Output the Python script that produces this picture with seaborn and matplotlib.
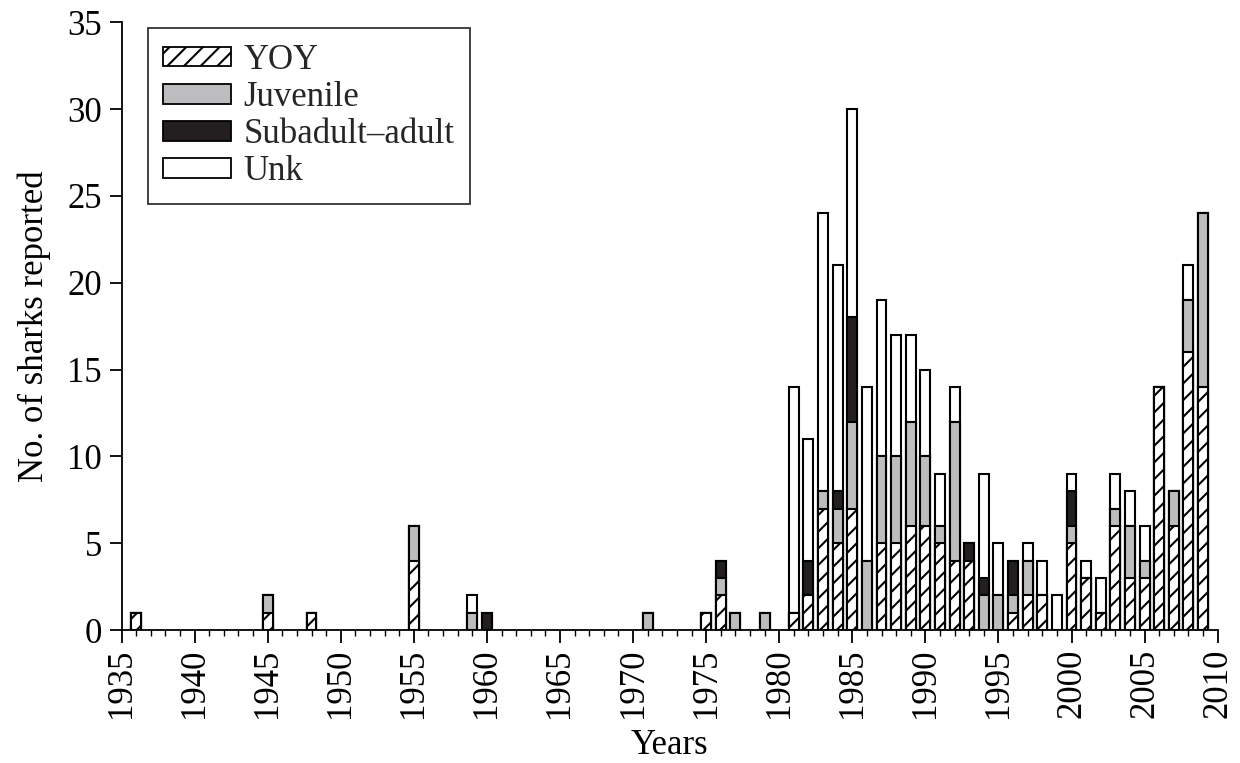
import numpy as np
import pandas as pd
import matplotlib
matplotlib.use("Agg")
import matplotlib.pyplot as plt
from matplotlib.patches import Patch
from matplotlib.ticker import MultipleLocator
import seaborn as sns

years    = [1936, 1945, 1948, 1955, 1959, 1960, 1971, 1975, 1976, 1977, 1979,
            1981, 1982, 1983, 1984, 1985, 1986, 1987, 1988, 1989, 1990,
            1991, 1992, 1993, 1994, 1995, 1996, 1997, 1998, 1999, 2000,
            2001, 2002, 2003, 2004, 2005, 2006, 2007, 2008, 2009]
yoy      = [1, 1, 1, 4, 0, 0, 0, 1, 2, 0, 0,
            1, 2, 7, 5, 7, 0, 5, 5, 6, 6,
            5, 4, 4, 0, 0, 1, 2, 2, 0, 5,
            3, 1, 6, 3, 3, 14, 6, 16, 14]
juvenile = [0, 1, 0, 2, 1, 0, 1, 0, 1, 1, 1,
            0, 0, 1, 2, 5, 4, 5, 5, 6, 4,
            1, 8, 0, 2, 2, 1, 2, 0, 0, 1,
            0, 0, 1, 3, 1, 0, 2, 3, 10]
subadult = [0, 0, 0, 0, 0, 1, 0, 0, 1, 0, 0,
            0, 2, 0, 1, 6, 0, 0, 0, 0, 0,
            0, 0, 1, 1, 0, 2, 0, 0, 0, 2,
            0, 0, 0, 0, 0, 0, 0, 0, 0]
unk      = [0, 0, 0, 0, 1, 0, 0, 0, 0, 0, 0,
            13, 7, 16, 13, 12, 10, 9, 7, 5, 5,
            3, 2, 0, 6, 3, 0, 1, 2, 2, 1,
            1, 2, 2, 2, 2, 0, 0, 2, 0]
labels = ["YOY", "Juvenile", "Subadult\u2013adult", "Unk"]

df = pd.DataFrame({"year": years, "YOY": yoy, "Juv": juvenile,
                   "Sub": subadult, "Unk": unk})
df["c_yoy"] = df["YOY"]
df["c_juv"] = df["c_yoy"] + df["Juv"]
df["c_sub"] = df["c_juv"] + df["Sub"]
df["c_unk"] = df["c_sub"] + df["Unk"]

sns.set_theme(style="ticks")
plt.rcParams["font.family"] = ["Liberation Serif", "DejaVu Serif"]
plt.rcParams["hatch.linewidth"] = 1.5

fig = plt.figure(figsize=(12.4, 7.63), dpi=100)
ax = fig.add_axes([0.098, 0.174, 0.884, 0.797])

GRAY = "#bdbdc0"
BLACK = "#231f20"
layers = [("c_unk", "white", ""), ("c_sub", BLACK, ""),
          ("c_juv", GRAY, ""), ("c_yoy", "white", "//")]
for col, fc, hatch in layers:
    sub = df[df[col] > 0]
    sns.barplot(data=sub, x="year", y=col, native_scale=True, width=0.68,
                color=fc, edgecolor="black", linewidth=1.5, saturation=1,
                ax=ax, zorder=2)
    if hatch:
        for p in ax.patches[-len(sub):]:
            p.set_hatch(hatch)
            p.set_facecolor("white")

FS = 25
ax.set_xlim(1935, 2010)
ax.set_ylim(0, 35)
ax.xaxis.set_major_locator(MultipleLocator(5))
ax.xaxis.set_minor_locator(MultipleLocator(1))
ax.yaxis.set_major_locator(MultipleLocator(5))
ax.tick_params(axis="x", which="major", length=9, width=1.3, labelsize=FS,
               labelrotation=90, color="black", pad=4)
ax.tick_params(axis="x", which="minor", length=4, width=1.0, color="black")
ax.tick_params(axis="y", which="major", length=9, width=1.3, labelsize=FS,
               color="black", pad=5)
for s in ["top", "right"]:
    ax.spines[s].set_visible(False)
for s in ["left", "bottom"]:
    ax.spines[s].set_color("black")
    ax.spines[s].set_linewidth(1.3)
ax.set_xlabel("Years", fontsize=FS, color="black", labelpad=8)
ax.set_ylabel("No. of sharks reported", fontsize=FS, color="black", labelpad=12)
for t in ax.get_xticklabels() + ax.get_yticklabels():
    t.set_color("black")

handles = [Patch(facecolor="white", edgecolor="black", hatch="//", linewidth=1.3),
           Patch(facecolor=GRAY, edgecolor="black", linewidth=1.3),
           Patch(facecolor=BLACK, edgecolor="black", linewidth=1.3),
           Patch(facecolor="white", edgecolor="black", linewidth=1.3)]
leg = ax.legend(handles, labels, loc="upper left", bbox_to_anchor=(0.024, 0.99),
                borderaxespad=0, fontsize=FS, frameon=True, fancybox=False,
                edgecolor="black", handlelength=1.95, handleheight=0.5,
                handletextpad=0.35, labelspacing=0.12, borderpad=0.45)
leg.get_frame().set_linewidth(1.3)

fig.savefig("out.png", dpi=100)
